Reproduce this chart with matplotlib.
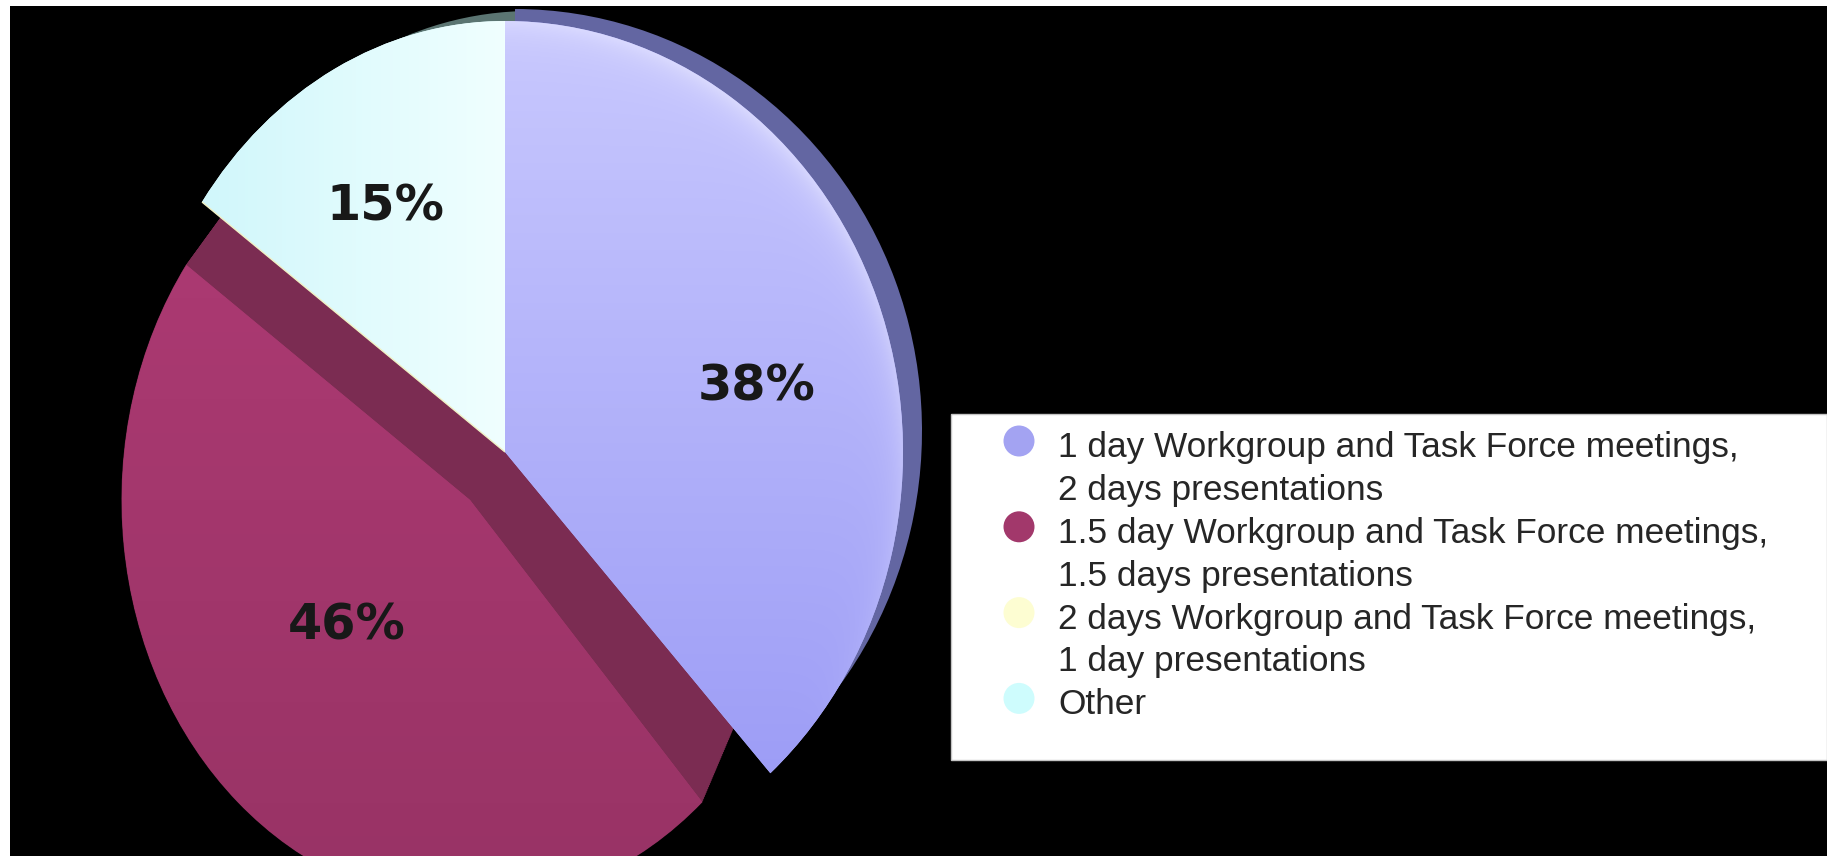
import numpy as np
import matplotlib
matplotlib.use("Agg")
import matplotlib.pyplot as plt
from matplotlib.colors import to_rgb
from matplotlib.patches import Rectangle, Circle, Wedge
from matplotlib.transforms import Affine2D

# Preferred split of the three meeting days
options = [
    "1 day Workgroup and Task Force meetings,\n2 days presentations",
    "1.5 day Workgroup and Task Force meetings,\n1.5 days presentations",
    "2 days Workgroup and Task Force meetings,\n1 day presentations",
    "Other",
]
shares = [38, 46, 0, 15]  # percent of answers

top_colors = ["#b4b4fb", "#a5386d", "#fbfbcc", "#dcfbfd"]
side_colors = ["#6366a2", "#7b2c52", "#d8d8a0", "#5b7572"]
key_colors = ["#a3a3f2", "#a2386b", "#fdfdd2", "#cefcfd"]

W, H = 1827, 856
fig = plt.figure(figsize=(W / 100, H / 100), dpi=100, facecolor="white")
ax = fig.add_axes([0, 0, 1, 1])


def up(y):
    # pixel rows count from the top, the axes counts from the bottom
    return H - y


# pie placement in pixels (tilted view, so every face gets its own ellipse)
cx, cy = 505, up(452)
radii = [(398, 431), (398, 431), (372, 431), (372, 431)]
side_geom = {0: ((cx + 10, cy + 21), (407, 422), 1.0),
             3: ((cx + 26, cy + 10), (372, 431), 0.9)}
back_c, back_r = (505, up(437)), (345, 385)
front_c, front_r = (470, up(500)), (348, 405)


def place(patch, centre, r):
    patch.set_transform(Affine2D().scale(*r).translate(*centre) + ax.transData)


def blend(c0, c1, t):
    c0, c1 = np.array(to_rgb(c0)), np.array(to_rgb(c1))
    return c0 + (c1 - c0) * np.clip(t, 0, 1)[..., None]


def paint(patch, box, fill, z):
    x0, x1, y0, y1 = box
    X, Y = np.meshgrid(np.linspace(x0, x1, 320), np.linspace(y0, y1, 320))
    im = ax.imshow(np.clip(fill(X, Y), 0, 1), extent=box, origin="lower",
                   aspect="auto", interpolation="bilinear", zorder=z)
    im.set_clip_path(patch)


ax.add_patch(Rectangle((10, 0), W - 10, H - 6, facecolor="black",
                       edgecolor="none", zorder=0))

# side walls peeking out behind the top faces
sides, _ = ax.pie(shares, colors=side_colors, startangle=90,
                  counterclock=False, wedgeprops=dict(linewidth=0))
for i, w in enumerate(sides):
    if i in side_geom:
        centre, r, z = side_geom[i]
        place(w, centre, r)
        w.set_zorder(z)
    else:
        w.set_visible(False)

tops, _ = ax.pie(shares, colors=top_colors, startangle=90,
                 counterclock=False, wedgeprops=dict(linewidth=0))
for i, w in enumerate(tops):
    place(w, (cx, cy), radii[i])
    w.set_zorder(2)

# exploded slice: wall swept from the back face to the front face
pulled = tops[1]
for k in np.linspace(0, 1, 41):
    c = (back_c[0] + k * (front_c[0] - back_c[0]),
         back_c[1] + k * (front_c[1] - back_c[1]))
    r = (back_r[0] + k * (front_r[0] - back_r[0]),
         back_r[1] + k * (front_r[1] - back_r[1]))
    wall = Wedge((0, 0), 1, pulled.theta1, pulled.theta2,
                 facecolor=side_colors[1], edgecolor=side_colors[1],
                 linewidth=0.8, zorder=1.5)
    ax.add_patch(wall)
    place(wall, c, r)
place(pulled, front_c, front_r)
pulled.set_zorder(3)

# the empty slice only leaves a hairline
tops[2].set_edgecolor("#f0f0c4")
tops[2].set_linewidth(1.0)
tops[2].set_zorder(2.5)

# shading on the faces
rx, ry = radii[0]


def blue_fill(X, Y):
    rgb = blend("#9797f5", "#c8c8fe", (Y - (cy - ry)) / (2 * ry))
    u, v = (X - cx) / rx, (Y - cy) / ry
    rho = np.hypot(u, v)
    glow = 0.35 * np.exp(-np.clip(1 - rho, 0, None) * rx / 14.0) \
        * np.clip(np.cos(np.arctan2(v, u) - np.radians(50)), 0, 1)
    return rgb + (1 - rgb) * glow[..., None]


def cyan_fill(X, Y):
    return blend("#c9f5fa", "#f0ffff", (X - (cx - radii[3][0])) / radii[3][0])


def magenta_fill(X, Y):
    return blend("#983365", "#b03b75", (Y - (front_c[1] - front_r[1])) / (2 * front_r[1]))


paint(tops[0], (cx, cx + rx, cy - ry, cy + ry), blue_fill, 2.1)
paint(tops[3], (cx - radii[3][0], cx, cy, cy + ry), cyan_fill, 2.1)
paint(pulled, (front_c[0] - front_r[0], front_c[0] + front_r[0],
               front_c[1] - front_r[1], front_c[1] + front_r[1]),
      magenta_fill, 3.1)

# percentage labels (baseline positions in pixels)
label_at = {0: (757, 400), 1: (347, 640), 3: (385, 220)}
for i, v in enumerate(shares):
    if v:
        x, y = label_at[i]
        ax.text(x, up(y), f"{v}%", ha="center", va="baseline",
                fontsize=35.5, fontweight="bold", family="DejaVu Sans",
                color="#181818", zorder=6)

# legend box
ax.add_patch(Rectangle((951, up(760)), W - 951, 760 - 414, facecolor="white",
                       edgecolor="#c4c4c4", linewidth=1, zorder=5))
row = 0
for text, colour in zip(options, key_colors):
    base = 457 + 42.9 * row
    ax.add_patch(Circle((1019, up(base - 16)), 15.5, facecolor=colour,
                        edgecolor="none", zorder=6))
    for line in text.split("\n"):
        ax.text(1058, up(457 + 42.9 * row), line, fontsize=25.4,
                family="Liberation Sans", color="#262626",
                ha="left", va="baseline", zorder=6)
        row += 1

ax.set_xlim(0, W)
ax.set_ylim(0, H)
ax.set_aspect("auto")
ax.axis("off")

fig.savefig("out.png", dpi=100, facecolor="white")
